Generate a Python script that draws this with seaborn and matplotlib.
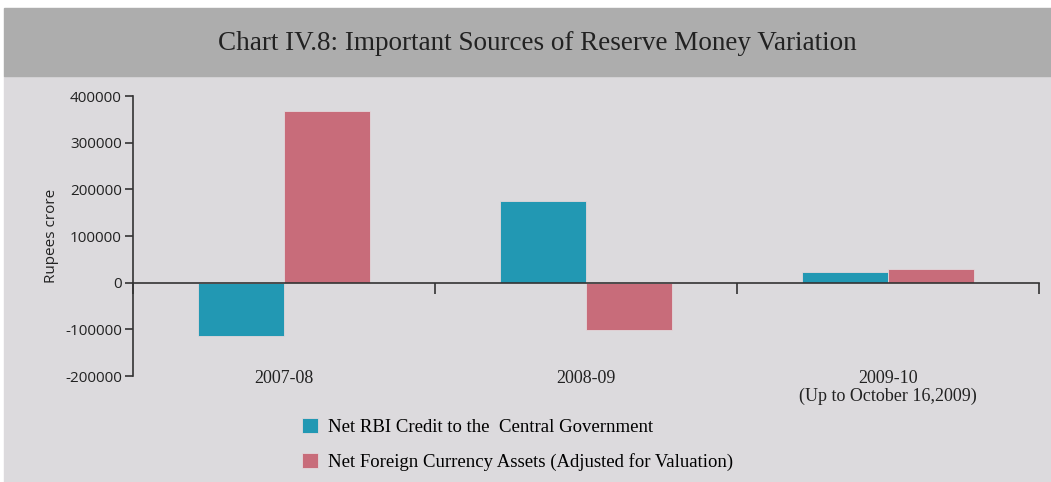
import matplotlib
matplotlib.use("Agg")
import matplotlib.pyplot as plt
from matplotlib.patches import Rectangle
from matplotlib.ticker import FixedLocator
import seaborn as sns
import pandas as pd

# ---- data ----
categories = ["2007-08", "2008-09", "2009-10\n(Up to October 16,2009)"]
series_names = ["Net RBI Credit to the  Central Government",
                "Net Foreign Currency Assets (Adjusted for Valuation)"]
net_rbi_credit = [-115000, 175500, 23500]
net_fca = [368500, -100500, 30000]
y_ticks = [-200000, -100000, 0, 100000, 200000, 300000, 400000]

colors = ["#2298b3", "#c86c7a"]

df = pd.DataFrame({
    "Year": categories * 2,
    "Series": [series_names[0]] * 3 + [series_names[1]] * 3,
    "Value": net_rbi_credit + net_fca,
})

W, H = 1051, 482
fig = plt.figure(figsize=(W / 100, H / 100), dpi=100, facecolor="white")

# background panels
fig.patches.append(Rectangle((4 / W, 0), 1 - 4 / W, (H - 76) / H,
                             transform=fig.transFigure, color="#dcdadd", zorder=-10))
fig.patches.append(Rectangle((4 / W, (H - 76) / H), 1 - 4 / W, 68 / H,
                             transform=fig.transFigure, color="#adadad", zorder=-10))
fig.text(537 / W, 1 - 43 / H, "Chart IV.8: Important Sources of Reserve Money Variation",
         ha="center", va="center", fontsize=19.5, family="Liberation Serif", color="#222222")

ax = fig.add_axes([133 / W, 1 - 376 / H, (1039 - 133) / W, (376 - 96) / H])
ax.set_facecolor("none")

sns.barplot(data=df, x="Year", y="Value", hue="Series", palette=colors, saturation=1,
            width=0.57, ax=ax, edgecolor="#e2d8db", linewidth=0.6, legend=True)

# spines first (set_position resets tick objects)
for s in ["top", "right"]:
    ax.spines[s].set_visible(False)
ax.spines["bottom"].set_position(("data", 0))
for s in ["bottom", "left"]:
    ax.spines[s].set_color("#333333")
    ax.spines[s].set_linewidth(1.2)

ax.set_xlim(-0.5, 2.5)
ax.set_ylim(-200000, 400000)
ax.set_yticks(y_ticks)
ax.set_yticklabels([str(v) for v in y_ticks])
ax.tick_params(axis="y", direction="out", length=6, width=1.2, color="#333333", pad=2)

ax.set_xticks(range(len(categories)))
ax.set_xticklabels(categories)
ax.xaxis.set_minor_locator(FixedLocator([-0.5, 0.5, 1.5, 2.5]))
ax.tick_params(axis="x", which="major", length=0, pad=63)
ax.tick_params(axis="x", which="minor", direction="out", length=8, width=1.2, color="#333333")

for lab in ax.get_xticklabels():
    lab.set_fontfamily("Liberation Serif")
    lab.set_fontsize(13)
    lab.set_color("#222222")
    lab.set_linespacing(1.05)
for lab in ax.get_yticklabels():
    lab.set_fontfamily("Open Sans")
    lab.set_fontsize(11)
    lab.set_color("#222222")

ax.set_xlabel("")
ax.set_ylabel("Rupees crore", family="Open Sans", fontsize=11, color="#222222", labelpad=4)
ax.grid(False)

handles, labels = ax.get_legend_handles_labels()
ax.legend(handles, labels, loc="upper left", bbox_to_anchor=(302 / W, 1 - 418 / H),
          bbox_transform=fig.transFigure, frameon=False, borderpad=0, borderaxespad=0,
          handlelength=0.85, handleheight=0.85, handletextpad=0.52, labelspacing=0.9,
          prop={"family": "Liberation Serif", "size": 13.5})

fig.savefig("out.png", dpi=100, facecolor=fig.get_facecolor())
